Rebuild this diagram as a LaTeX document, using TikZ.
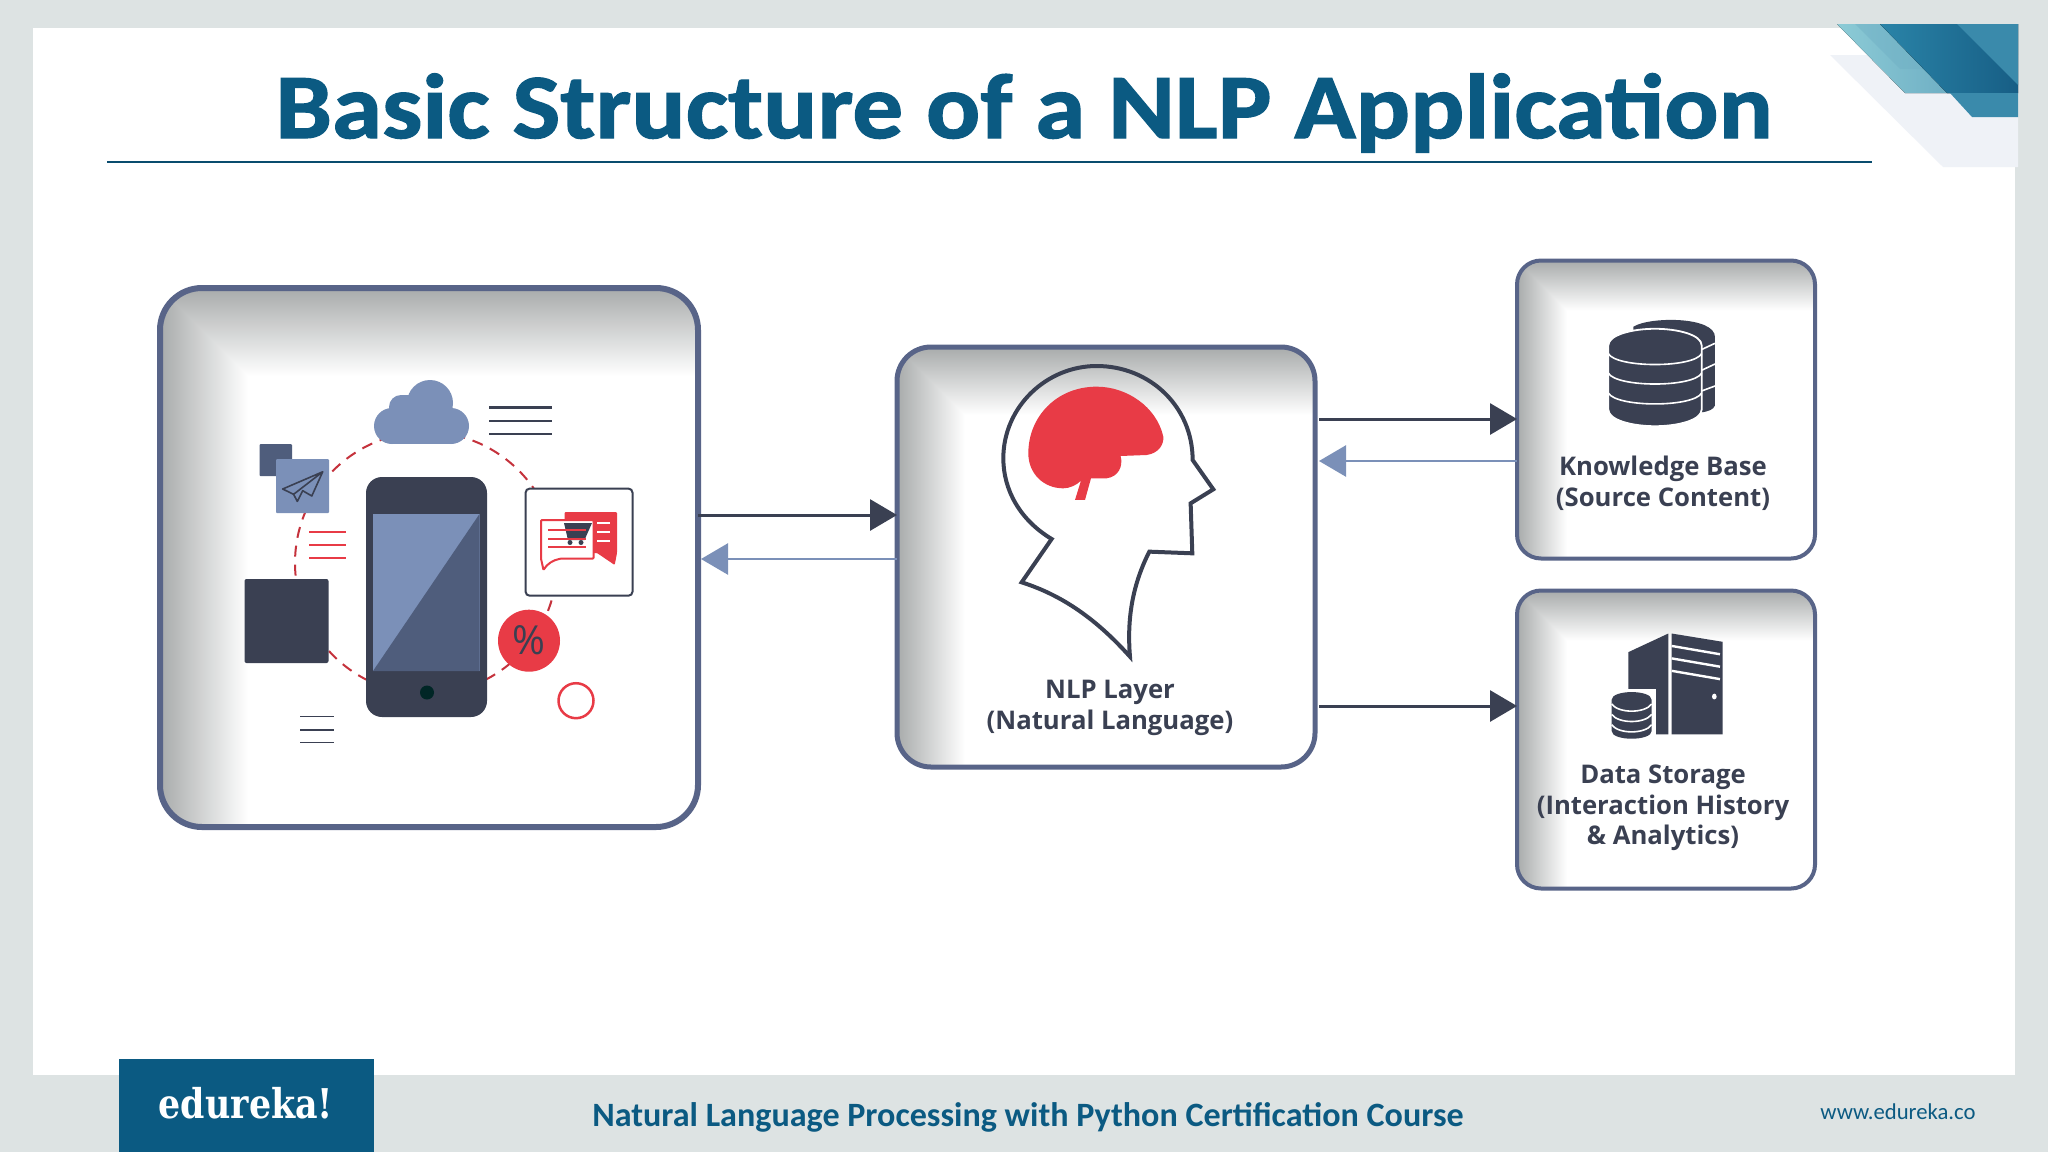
\documentclass[tikz,border=0pt]{standalone}
\usepackage{fontspec}
\setmainfont{Open Sans}
\newfontfamily\titlefont{Carlito}
\newfontfamily\headfont[FakeStretch=1.1,BoldFeatures={FakeBold=1.4}]{Carlito}
\newfontfamily\logofont[FakeStretch=0.85]{DejaVu Serif}
\usetikzlibrary{arrows.meta}
\definecolor{pagebg}{HTML}{DDE3E3}
\definecolor{brandblue}{HTML}{0B5A82}
\definecolor{frameblue}{HTML}{586488}
\definecolor{ink}{HTML}{3A4052}
\definecolor{slate}{HTML}{7B90B8}
\definecolor{slatedark}{HTML}{4F5D7C}
\definecolor{signal}{HTML}{E83B46}
\definecolor{shadegrey}{HTML}{A8ABAB}
\definecolor{tealA}{HTML}{8CCBD6}
\definecolor{tealB}{HTML}{6FAFC4}
\definecolor{tealC}{HTML}{2A84A8}
\definecolor{tealD}{HTML}{175E85}
\definecolor{tealE}{HTML}{3A8AAB}
\tikzset{
  shbox/.style n args={5}{draw=frameblue, line width=#5pt, fill=white, rounded corners=#3pt,
    minimum width=#1pt, minimum height=#2pt, inner sep=0pt, outer sep=0pt,
    path picture={
      \begin{scope}[sharp corners, blend mode=darken]
      \shade[left color=shadegrey, right color=white] (path picture bounding box.north west) rectangle ([xshift=#4pt]path picture bounding box.south west);
      \shade[top color=shadegrey, bottom color=white] (path picture bounding box.north west) rectangle ([yshift=-#4pt]path picture bounding box.north east);
      \end{scope}
    }},
  fwd/.style={draw=ink, line width=3pt, -{Triangle[length=27pt,width=31pt]}},
  back/.style={draw=slate, line width=2.5pt, -{Triangle[length=27pt,width=31pt]}},
  boxlabel/.style={text=ink, align=center, font=\fontsize{25.7}{30.5}\selectfont\bfseries},
  iconline/.style={draw=ink, line width=2.2pt},
  redline/.style={draw=signal, line width=2pt},
  whiteline/.style={draw=white, line width=1.6pt}
}
\begin{document}
\begin{tikzpicture}[x=1pt,y=-1pt]
\useasboundingbox (0,0) rectangle (2048,1152);
% page
\fill[pagebg] (0,0) rectangle (2048,1152);
\fill[white] (33,28) rectangle (2015,1075);
% corner decoration
\fill[white!88!slate] (1830,55) -- (2018,55) -- (2018,167) -- (1943,167) -- cycle;
\fill[left color=tealA, right color=tealB] (1837,24) -- (1880,24) -- (1950,93) -- (1905,93) -- cycle;
\fill[tealB, opacity=.45] (1855,24) -- (1885,24) -- (1925,69) -- (1900,69) -- cycle;
\fill[left color=tealC, right color=tealD] (1880,24) -- (2018,24) -- (2018,93) -- (1947,93) -- cycle;
\fill[tealE] (1950,93) -- (2018,93) -- (2018,117) -- (1972,117) -- cycle;
\fill[tealE] (1957,24) -- (2018,24) -- (2018,85) -- cycle;
% title
\node[anchor=base, text=brandblue, font=\headfont\fontsize{92}{96}\selectfont\bfseries, inner sep=0pt] (title) at (1024,138) {Basic Structure of a NLP Application};
\coordinate (ruleL) at (107,162);
\coordinate (ruleR) at (1872,162);
\draw[draw=brandblue!85!black, line width=1.6pt] (ruleL) -- (ruleR);
% boxes
\node[shbox={538}{539}{42}{88}{6}] (user) at (429,557.5) {};
\node[shbox={418}{420}{34}{68}{5}] (nlp) at (1106,557) {};
\node[shbox={298}{298}{24}{50}{4}] (kb) at (1666,409.5) {};
\node[shbox={298}{298}{24}{50}{4}] (store) at (1666,739.5) {};
% connector heights
\coordinate (ya) at (0,515);
\coordinate (yb) at (0,559);
\coordinate (yc) at (0,419);
\coordinate (yd) at (0,461);
\coordinate (ye) at (0,706);
\draw[fwd] (user.east |- ya) -- (nlp.west |- ya);
\draw[back, shorten >=3pt] (nlp.west |- yb) -- (user.east |- yb);
\draw[fwd, shorten <=4pt] (nlp.east |- yc) -- (kb.west |- yc);
\draw[back, shorten >=4pt] (kb.west |- yd) -- (nlp.east |- yd);
\draw[fwd, shorten <=4pt] (nlp.east |- ye) -- (store.west |- ye);
% user icons
\draw[draw=signal!85!black, line width=2pt, dash pattern=on 11pt off 8pt] (426,563) circle[radius=131];
% cloud
\fill[slate] (430,403) circle[radius=23] (401,407) circle[radius=12] (392,426) circle[radius=18] (451,426) circle[radius=18];
\fill[slate] (392,412) rectangle (451,444);
\fill[slate] (401,395) rectangle (430,412);
\draw[iconline] (489,407.5) -- (552,407.5) (489,421) -- (552,421) (489,434) -- (552,434);
% plane tiles
\fill[slatedark, rounded corners=1pt] (259.5,444) rectangle (292,476);
\fill[slate, rounded corners=1pt] (276,459) rectangle (329,513);
\draw[draw=ink, line width=1.6pt, line join=round] (322.7,471.8) -- (282.7,489) -- (293.6,494.3) -- (297.3,501.4) -- (302.7,490.7) -- (311.8,496) -- cycle (322.7,471.8) -- (293.6,494.3);
\draw[redline] (309,532) -- (345.6,532) (309,545) -- (345.6,545) (309,558) -- (345.6,558);
\fill[ink, rounded corners=2pt] (244.5,579) rectangle (328.5,663);
% phone
\fill[ink, rounded corners=16pt] (366,477) rectangle (487,717);
\fill[slate] (373,514) rectangle (479.5,671);
\fill[slatedark] (479.5,514) -- (479.5,671) -- (373,671) -- cycle;
\fill[black!70!teal] (427,692.5) circle[radius=7];
% chat tile
\draw[draw=ink, line width=2pt, fill=white, rounded corners=4pt] (525.6,488.6) rectangle (632.5,595.7);
\fill[signal, rounded corners=1pt] (564.5,512) -- (617,512) -- (617,553) -- (614.7,565) -- (597,553) -- (564.5,553) -- cycle;
\draw[draw=white, line width=1.6pt] (597,522.9) -- (610,522.9) (597,531.8) -- (610,531.8) (597,540.7) -- (610,540.7);
\draw[draw=signal, line width=2pt, fill=white, rounded corners=1pt] (541,520) -- (593.6,520) -- (593.6,558.6) -- (561,558.6) .. controls (553,560) and (547,564) .. (543.5,570) -- (541,558.6) -- cycle;
\fill[ink] (564,523) -- (592,523) -- (584.5,540) -- (568,540) -- cycle;
\fill[ink] (570,542.5) circle[radius=2.5] (581,542.5) circle[radius=2.5];
\draw[redline] (548,530) -- (586,530) (548,539) -- (586,539) (548,547) -- (586,547);
% percent and ring
\node[circle, fill=signal, minimum size=62pt, inner sep=0pt, text=ink, font=\fontsize{40}{44}\selectfont] (pct) at (529,640.7) {\%};
\node[circle, draw=signal, line width=2.5pt, minimum size=35pt, inner sep=0pt] (ring) at (576,700.7) {};
\draw[draw=ink, line width=1.8pt] (300,716.4) -- (334,716.4) (300,729.6) -- (334,729.6) (300,742.5) -- (334,742.5);
% head and brain
\begin{scope}[shift={(880,330)}, x=0.3333pt, y=-0.3333pt]
\draw[draw=ink, line width=4pt, line join=miter] (515,627) .. controls (420,570) and (370,480) .. (370,385) .. controls (370,230) and (500,108) .. (650,108) .. controls (810,108) and (938,230) .. (938,390) -- (1000,478) -- (932,520) -- (937,670) -- (808,665) .. controls (760,760) and (740,860) .. (750,980) .. controls (660,880) and (560,800) .. (425,757) -- cycle;
\fill[signal] (585,510) -- (615,510) -- (633,445) -- (680,445) .. controls (715,440) and (730,410) .. (722,378) -- (800,375) .. controls (835,370) and (852,345) .. (850,320) .. controls (830,230) and (740,170) .. (650,170) .. controls (530,170) and (445,260) .. (445,370) .. controls (445,430) and (490,475) .. (550,475) .. controls (570,475) and (590,465) .. (603,452) -- cycle;
\end{scope}
% database icon
\begin{scope}[shift={(1500,250)}, x=0.3333pt, y=-0.4146pt]
\fill[ink] (400,185) .. controls (450,160) and (645,160) .. (645,210) -- (645,375) .. controls (640,385) and (625,390) .. (600,392) -- (400,392) -- cycle;
\draw[draw=white, line width=1.8pt, fill=ink] (325,230) .. controls (325,205) and (395,190) .. (465,190) .. controls (535,190) and (605,205) .. (605,230) -- (605,385) .. controls (605,410) and (535,425) .. (465,425) .. controls (395,425) and (325,410) .. (325,385) -- cycle;
\draw[whiteline] (325,250) .. controls (350,285) and (580,285) .. (605,250);
\draw[whiteline] (325,297) .. controls (350,332) and (580,332) .. (605,297);
\draw[whiteline] (325,345) .. controls (350,380) and (580,380) .. (605,345);
\draw[whiteline] (605,240) -- (645,225) (605,290) -- (645,275) (605,340) -- (645,328);
\end{scope}
% server icon
\begin{scope}[shift={(1500,250)}, x=0.3333pt, y=-0.4146pt]
\fill[ink] (385,970) -- (505,925) -- (505,1168) -- (385,1168) -- cycle;
\fill[ink] (515,925) -- (668,945) -- (668,1168) -- (515,1168) -- cycle;
\draw[draw=white, line width=2.4pt] (515,955) -- (660,975) (515,985) -- (660,1005) (515,1015) -- (660,1035);
\fill[white] (643,1077) circle[radius=7];
\fill[white] (325,1060) rectangle (468,1185);
\fill[ink] (335,1085) .. controls (335,1060) and (455,1060) .. (455,1085) -- (455,1160) .. controls (455,1185) and (335,1185) .. (335,1160) -- cycle;
\draw[whiteline] (335,1095) .. controls (355,1118) and (435,1118) .. (455,1095);
\draw[whiteline] (335,1120) .. controls (355,1143) and (435,1143) .. (455,1120);
\draw[whiteline] (335,1145) .. controls (355,1168) and (435,1168) .. (455,1145);
\end{scope}
% labels
\node[boxlabel, inner sep=0pt] (nlplabel) at (1110,708) {NLP Layer\\(Natural Language)};
\node[boxlabel, inner sep=0pt] (kblabel) at (1663,483.5) {Knowledge Base\\(Source Content)};
\node[boxlabel, inner sep=0pt] (storelabel) at (1663,808) {Data Storage\\(Interaction History\\\& Analytics)};
% footer
\fill[brandblue] (119,1059) rectangle (374,1152);
\node[text=white, font=\logofont\fontsize{41}{44}\selectfont\bfseries, inner sep=0pt, anchor=base] (logo) at (246,1118) {edureka!};
\node[text=brandblue, font=\titlefont\fontsize{34.1}{37}\selectfont\bfseries, inner sep=0pt, anchor=base] (course) at (1028,1126) {Natural Language Processing with Python Certification Course};
\node[text=brandblue, font=\titlefont\fontsize{22.7}{26}\selectfont, inner sep=0pt, anchor=base] (web) at (1898,1119) {www.edureka.co};
\end{tikzpicture}
\end{document}
